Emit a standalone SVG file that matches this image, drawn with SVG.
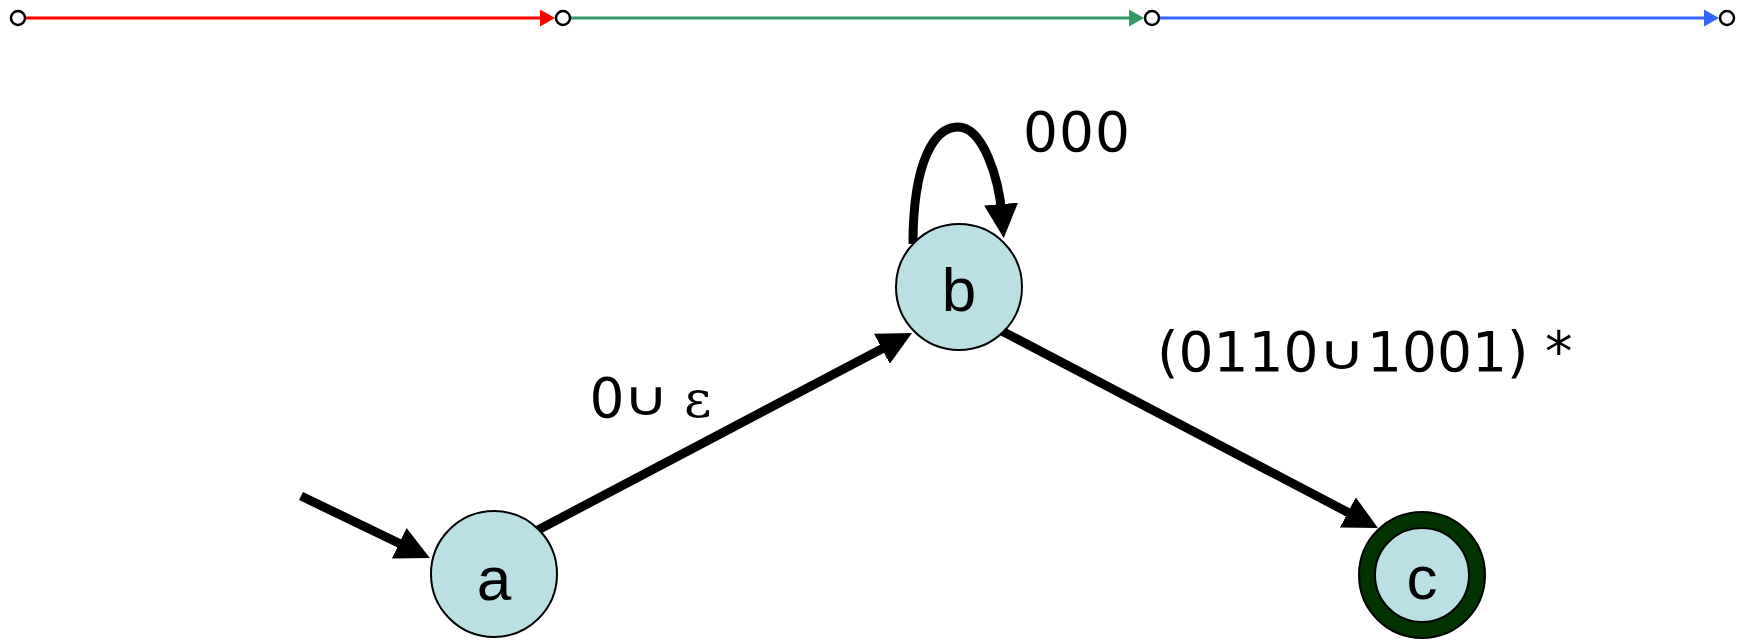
<svg xmlns="http://www.w3.org/2000/svg" width="1745" height="640" viewBox="0 0 1745 640">
<style>
.state{fill:#bbe0e3;stroke:#000;stroke-width:2}
.final{fill:#003300;stroke:#000;stroke-width:2}
.pin{fill:#fff;stroke:#000;stroke-width:2.5}
.edge{fill:none;stroke:#000;stroke-width:9}
.nlabel{font-family:"Liberation Sans",Arial,sans-serif;font-size:62px;fill:#000;text-anchor:middle}
.elabel{font-family:"DejaVu Sans",Verdana,sans-serif;font-size:55px;fill:#000}
.sym{font-family:"DejaVu Sans",sans-serif;font-size:48px;fill:#000;text-anchor:middle}
.eps{font-family:"DejaVu Serif",serif;font-size:53px}
</style>
<defs>
<marker id="ah" markerUnits="userSpaceOnUse" viewBox="0 0 34 34" markerWidth="34" markerHeight="34" refX="12" refY="17" orient="auto"><path d="M0,0 L34,17 L0,34 Z" fill="#000"/></marker>
<marker id="ahR" markerUnits="userSpaceOnUse" viewBox="0 0 15 17" markerWidth="15" markerHeight="17" refX="5" refY="8.5" orient="auto"><path d="M0,0 L15,8.5 L0,17 Z" fill="#ff0000"/></marker>
<marker id="ahG" markerUnits="userSpaceOnUse" viewBox="0 0 15 17" markerWidth="15" markerHeight="17" refX="5" refY="8.5" orient="auto"><path d="M0,0 L15,8.5 L0,17 Z" fill="#339966"/></marker>
<marker id="ahB" markerUnits="userSpaceOnUse" viewBox="0 0 15 17" markerWidth="15" markerHeight="17" refX="5" refY="8.5" orient="auto"><path d="M0,0 L15,8.5 L0,17 Z" fill="#3366ff"/></marker>
</defs>
<g id="connectors">
<line x1="25" y1="18" x2="545" y2="18" stroke="#ff0000" stroke-width="3" marker-end="url(#ahR)"/>
<line x1="570" y1="18" x2="1134" y2="18" stroke="#339966" stroke-width="3" marker-end="url(#ahG)"/>
<line x1="1159" y1="18" x2="1709" y2="18" stroke="#3366ff" stroke-width="3" marker-end="url(#ahB)"/>
<line class="edge" x1="301" y1="496" x2="410" y2="548.5" marker-end="url(#ah)"/>
<line class="edge" x1="536" y1="531" x2="892.5" y2="343.2" marker-end="url(#ah)"/>
<line class="edge" x1="998" y1="329" x2="1358.5" y2="517.9" marker-end="url(#ah)"/>
<path class="edge" d="M913,244 C913,160 935,127 958,127 C983,127 999,178 1002,216" marker-end="url(#ah)"/>
<text class="elabel" x="1023" y="151" letter-spacing="1">000</text>
<text class="elabel" x="589.5" y="417">0</text>
<text class="sym" transform="translate(646,415) scale(1.3,1)">∪</text>
<text class="elabel" x="684" y="417"><tspan class="eps">ε</tspan></text>
<text class="elabel" y="371"><tspan x="1157">(0110</tspan><tspan x="1367">1001)</tspan><tspan x="1545">*</tspan></text>
<text class="sym" transform="translate(1342,369) scale(1.35,1)">∪</text>
</g>
<g id="p1"><circle class="pin" cx="18" cy="18" r="7"/></g>
<g id="p2"><circle class="pin" cx="563" cy="18" r="7"/></g>
<g id="p3"><circle class="pin" cx="1152" cy="18" r="7"/></g>
<g id="p4"><circle class="pin" cx="1727" cy="18" r="7"/></g>
<g id="a"><circle class="state" cx="494" cy="574" r="63"/><text class="nlabel" x="494" y="600">a</text></g>
<g id="b"><circle class="state" cx="959" cy="287" r="63"/><text class="nlabel" x="959" y="311">b</text></g>
<g id="c"><circle class="final" cx="1422" cy="575" r="63"/><circle class="state" cx="1422" cy="575" r="47"/><text class="nlabel" x="1422" y="599">c</text></g>
</svg>
